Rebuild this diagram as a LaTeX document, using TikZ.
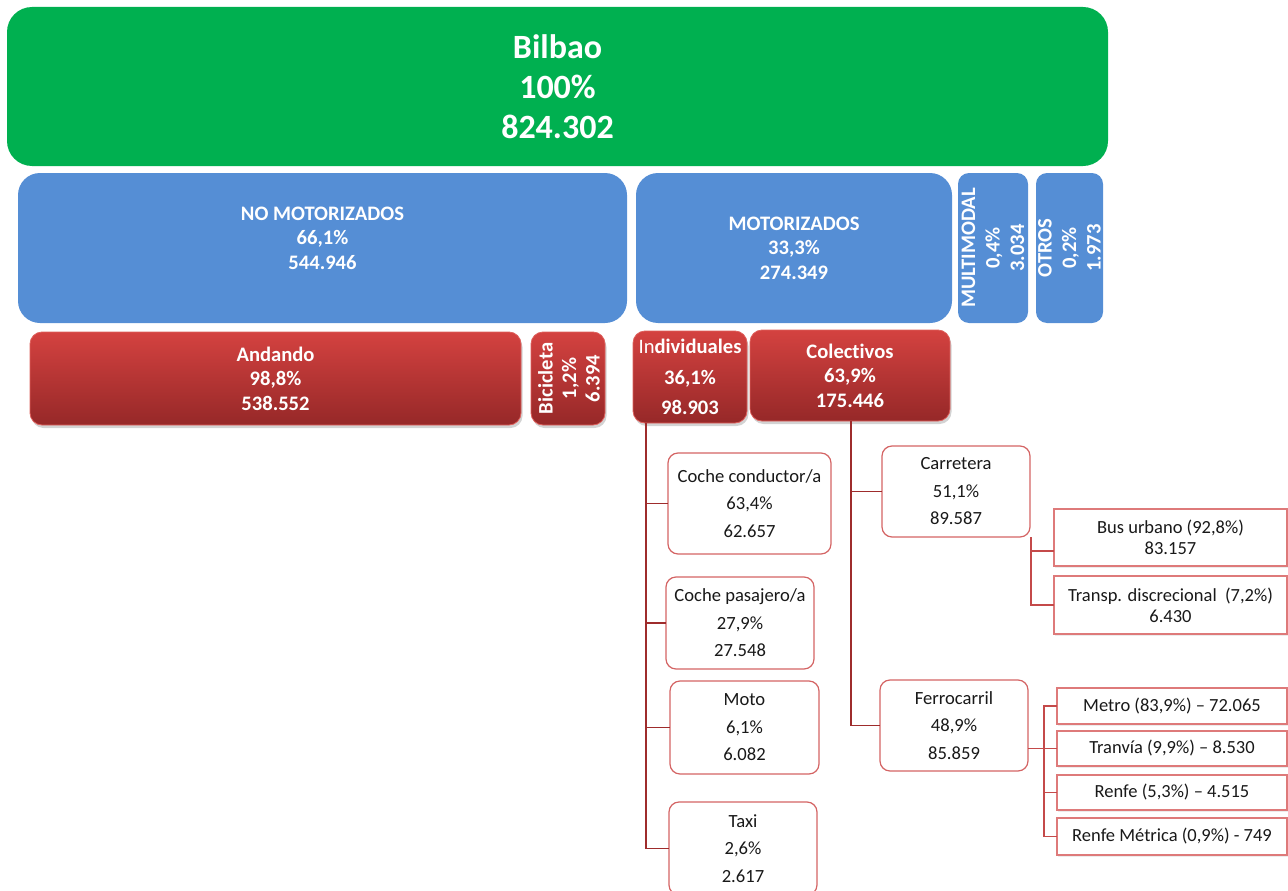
\documentclass[tikz,border=0pt]{standalone}
\usepackage{fontspec}
\setmainfont[Ligatures={NoCommon}]{Carlito}
\usetikzlibrary{shadows}

\definecolor{bilbaogreen}{RGB}{0,176,80}
\definecolor{modeblue}{RGB}{85,142,213}
\definecolor{redtop}{RGB}{212,66,64}
\definecolor{redbot}{RGB}{150,40,40}
\definecolor{rededge}{RGB}{222,96,92}
\definecolor{trunkred}{RGB}{158,44,44}
\definecolor{branchred}{RGB}{196,74,74}
\definecolor{boxedge}{RGB}{212,100,100}
\definecolor{rectedge}{RGB}{222,122,122}
\definecolor{bodytext}{RGB}{25,25,25}

\tikzset{
  base/.style={inner sep=0pt, outer sep=0pt, align=center},
  boldtext/.style={font=\bfseries\fontsize{20.6}{24.5}\selectfont},
  greenbox/.style={base, fill=bilbaogreen, text=white, rounded corners=25pt,
    font=\bfseries\fontsize{34}{40}\selectfont},
  bluebox/.style={base, fill=modeblue, text=white, rounded corners=22pt, boldtext},
  bluetab/.style={bluebox, rounded corners=11pt},
  redbox/.style={base, top color=redtop, bottom color=redbot, draw=rededge,
    line width=0.8pt, text=white, rounded corners=12pt, boldtext,
    drop shadow={opacity=0.35, shadow xshift=1.5pt, shadow yshift=-3pt}},
  whitebox/.style={base, fill=white, draw=boxedge, line width=1.2pt,
    rounded corners=10pt, text=bodytext,
    font=\fontsize{18.6}{27.5}\selectfont},
  rectbox/.style={base, fill=white, draw=rectedge, line width=1.2pt,
    text=bodytext, font=\fontsize{18.5}{21}\selectfont,
    drop shadow={opacity=0.15, shadow xshift=1pt, shadow yshift=-1.5pt}},
  trunk/.style={draw=trunkred, line width=1.6pt},
  branch/.style={draw=branchred, line width=1.2pt},
}

\begin{document}
\begin{tikzpicture}[x=1pt,y=-1pt]
\useasboundingbox (0,0) rectangle (1288,891);
\clip (0,0) rectangle (1288,891);

% total
\node[greenbox, minimum width=1101pt, minimum height=159pt] (bilbao) at (557.5,86.5)
  {Bilbao\\100\%\\824.302};

% first split
\node[bluebox, minimum width=609pt, minimum height=150pt] (nomot) at (322.5,248) {};
\node[base, text=white, boldtext] (nomot-txt)
  at ([yshift=10pt]nomot.center) {NO MOTORIZADOS\\66,1\%\\544.946};
\node[bluebox, minimum width=316pt, minimum height=150pt] (mot) at (794,248)
  {MOTORIZADOS\\33,3\%\\274.349};
\node[bluetab, minimum width=70pt, minimum height=150pt] (multi) at (993,248) {};
\node[base, text=white, rotate=90, boldtext]
  (multi-txt) at (multi.center) {MULTIMODAL\\0,4\%\\3.034};
\node[bluetab, minimum width=67pt, minimum height=150pt] (otros) at (1069.5,248) {};
\node[base, text=white, rotate=90, boldtext]
  (otros-txt) at (otros.center) {OTROS\\0,2\%\\1.973};

% second split
\node[redbox, minimum width=491pt, minimum height=93pt] (andando) at (275.5,378.5)
  {Andando\\98,8\%\\538.552};
\node[redbox, minimum width=74pt, minimum height=93pt] (bici) at (568,378.5) {};
\node[base, text=white, rotate=90, font=\bfseries\fontsize{20.6}{23.5}\selectfont]
  (bici-txt) at ([xshift=1pt]bici.center) {Bicicleta\\1,2\%\\6.394};
\node[redbox, minimum width=114pt, minimum height=92pt,
  font=\bfseries\fontsize{20.6}{30.5}\selectfont] (indiv) at (690,377)
  {{\mdseries In}dividuales\\36,1\%\\98.903};
\node[redbox, minimum width=200pt, minimum height=91pt] (colect) at (850,375.5)
  {\raisebox{-2.5pt}{\parbox{200pt}{\centering Colectivos\\63,9\%\\175.446}}};

% individual modes
\node[whitebox, minimum width=163pt, minimum height=101pt] (cond) at (749.5,503.5)
  {Coche conductor/a\\63,4\%\\62.657};
\node[whitebox, minimum width=148pt, minimum height=92pt] (pasaj) at (740,623)
  {Coche pasajero/a\\27,9\%\\27.548};
\node[whitebox, minimum width=149pt, minimum height=93pt] (moto) at (744.5,727.5)
  {Moto\\6,1\%\\6.082};
\node[whitebox, minimum width=148pt, minimum height=93pt] (taxi) at (743,848.5)
  {Taxi\\2,6\%\\2.617};

% collective modes
\node[whitebox, minimum width=148pt, minimum height=91pt] (carr) at (956,491.5)
  {Carretera\\51,1\%\\89.587};
\node[whitebox, minimum width=148pt, minimum height=91pt] (ferro) at (954,725.5)
  {Ferrocarril\\48,9\%\\85.859};

% road services
\node[rectbox, minimum width=233pt, minimum height=57pt] (bus) at (1170.5,537.5)
  {Bus urbano (92,8\%)\\83.157};
\node[rectbox, minimum width=233pt, minimum height=58pt] (transp) at (1170.5,605)
  {Transp. discrecional~~(7,2\%)\\6.430};

% rail services
\node[rectbox, minimum width=230pt, minimum height=36pt] (metro) at (1172,706)
  {Metro (83,9\%) – 72.065};
\node[rectbox, minimum width=230pt, minimum height=35pt] (tranvia) at (1172,748.5)
  {Tranvía (9,9\%) – 8.530};
\node[rectbox, minimum width=230pt, minimum height=35pt] (renfe) at (1172,792.5)
  {Renfe (5,3\%) – 4.515};
\node[rectbox, minimum width=230pt, minimum height=37pt] (renfem) at (1172,836.5)
  {Renfe Métrica (0,9\%) - 749};

% connectors
\coordinate (itrunk) at (646,423);
\draw[trunk] (itrunk) |- (cond.west);
\draw[trunk] (itrunk) |- (pasaj.west);
\draw[trunk] (itrunk) |- (moto.west);
\draw[trunk] (itrunk) |- (taxi.west);

\coordinate (ctrunk) at (851,421);
\draw[trunk] (ctrunk) |- (carr.west);
\draw[trunk] (ctrunk) |- (ferro.west);

\coordinate (rtrunk) at (1031,537);
\draw[branch] (rtrunk) |- ([yshift=-13.5pt]bus.west);
\draw[branch] (rtrunk) |- (transp.west);

\coordinate (ftrunk) at (1044,706);
\draw[branch] (ferro.east |- tranvia.west) -- (tranvia.west);
\draw[branch] (metro.west) -- (ftrunk) |- (renfem.west);
\draw[branch] (ftrunk) |- (renfe.west);
\end{tikzpicture}
\end{document}
